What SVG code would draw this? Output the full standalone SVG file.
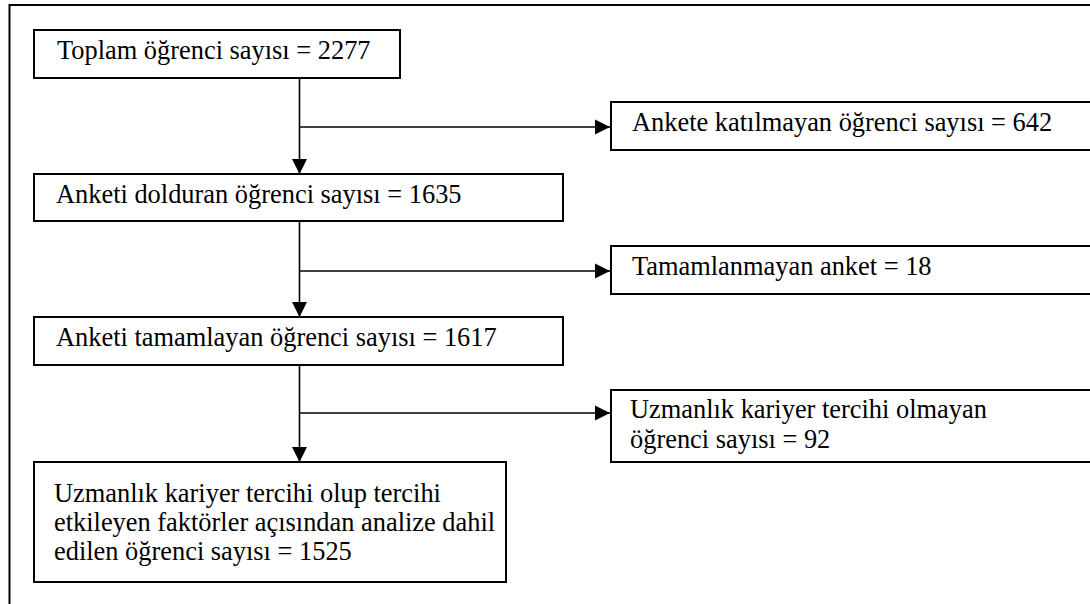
<svg xmlns="http://www.w3.org/2000/svg" width="1090" height="604" viewBox="0 0 1090 604">
  <defs>
    <marker id="arrow" markerUnits="userSpaceOnUse" markerWidth="16" markerHeight="16" viewBox="0 0 16 16" refX="15" refY="8" orient="auto">
      <path d="M0,0.5 L15,8 L0,15.5 Z" fill="#000"/>
    </marker>
    <style>
      .box { fill: #fff; stroke: #000; stroke-width: 2; }
      .frame { fill: none; stroke: #000; stroke-width: 2; }
      .lbl { font-family: "Liberation Serif", "Times New Roman", serif; font-size: 26.4px; fill: #000; }
      .conn { fill: none; stroke: #000; stroke-width: 1.6; }
    </style>
  </defs>
  <rect width="1090" height="604" fill="#fff"/>
  <rect class="frame" x="9.5" y="5" width="1200" height="700"/>

  <g id="connectors">
    <line class="conn" x1="299.5" y1="78" x2="299.5" y2="174" marker-end="url(#arrow)"/>
    <line class="conn" x1="299.5" y1="127" x2="610" y2="127" marker-end="url(#arrow)"/>
    <line class="conn" x1="299.5" y1="221" x2="299.5" y2="317" marker-end="url(#arrow)"/>
    <line class="conn" x1="299.5" y1="271" x2="610" y2="271" marker-end="url(#arrow)"/>
    <line class="conn" x1="299.5" y1="365" x2="299.5" y2="462" marker-end="url(#arrow)"/>
    <line class="conn" x1="299.5" y1="413" x2="610" y2="413" marker-end="url(#arrow)"/>
  </g>

  <g id="node-total">
    <rect class="box" x="34" y="30" width="366" height="48"/>
    <text class="lbl" x="57" y="59">Toplam öğrenci sayısı = 2277</text>
  </g>
  <g id="node-not-participated">
    <rect class="box" x="611" y="102" width="600" height="48"/>
    <text class="lbl" x="632" y="131">Ankete katılmayan öğrenci sayısı = 642</text>
  </g>
  <g id="node-filled">
    <rect class="box" x="34" y="174" width="529" height="47"/>
    <text class="lbl" x="56" y="203">Anketi dolduran öğrenci sayısı = 1635</text>
  </g>
  <g id="node-incomplete">
    <rect class="box" x="611" y="246" width="600" height="48"/>
    <text class="lbl" x="632" y="275">Tamamlanmayan anket = 18</text>
  </g>
  <g id="node-completed">
    <rect class="box" x="34" y="317" width="529" height="48"/>
    <text class="lbl" x="56" y="346">Anketi tamamlayan öğrenci sayısı = 1617</text>
  </g>
  <g id="node-no-preference">
    <rect class="box" x="611" y="390" width="600" height="72"/>
    <text class="lbl" x="630" y="418">Uzmanlık kariyer tercihi olmayan</text>
    <text class="lbl" x="630" y="448">öğrenci sayısı = 92</text>
  </g>
  <g id="node-analyzed">
    <rect class="box" x="34" y="462" width="472" height="120"/>
    <text class="lbl" x="54" y="502">Uzmanlık kariyer tercihi olup tercihi</text>
    <text class="lbl" x="54" y="531">etkileyen faktörler açısından analize dahil</text>
    <text class="lbl" x="54" y="560">edilen öğrenci sayısı = 1525</text>
  </g>
</svg>
